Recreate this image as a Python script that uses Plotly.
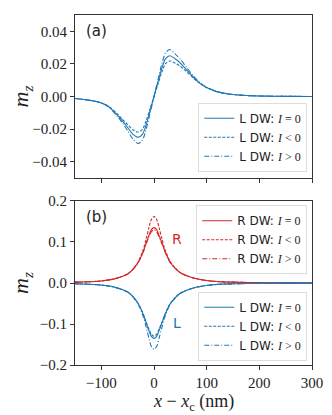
import plotly.graph_objects as go

# Panel (a): left DW profile, m_z vs x - x_c (nm)
xa = [-150, -125, -100, -85, -70, -60, -50, -40, -30, -22, -15, -8, 0, 8, 15, 22, 30, 40, 50, 62, 75, 87, 100, 119, 135, 150, 175, 200, 250, 300]
ya_zero = [-0.0012, -0.0022, -0.004, -0.0065, -0.0113, -0.015, -0.019, -0.0232, -0.025, -0.0232, -0.0175, -0.0095, 0.0, 0.0095, 0.0175, 0.0232, 0.025, 0.0232, 0.0205, 0.0164, 0.0118, 0.0082, 0.0055, 0.003, 0.0019, 0.0012, 0.0006, 0.0003, 0.0001, 0.0]
ya_neg = [-0.0012, -0.0022, -0.004, -0.0063, -0.0106, -0.014, -0.0172, -0.0204, -0.0218, -0.0202, -0.015, -0.008, 0.0, 0.008, 0.015, 0.0202, 0.0218, 0.0205, 0.0185, 0.0152, 0.0112, 0.008, 0.0054, 0.003, 0.0019, 0.0012, 0.0006, 0.0003, 0.0001, 0.0]
ya_pos = [-0.0012, -0.0022, -0.004, -0.0068, -0.012, -0.0162, -0.021, -0.0262, -0.0288, -0.0268, -0.0202, -0.011, 0.0, 0.011, 0.0202, 0.0268, 0.0288, 0.0262, 0.0228, 0.0178, 0.0125, 0.0085, 0.0056, 0.003, 0.0019, 0.0012, 0.0006, 0.0003, 0.0001, 0.0]

# Panel (b): right and left DW profiles
xb = [-150, -125, -100, -75, -50, -40, -30, -20, -15, -10, -5, 0, 5, 10, 15, 20, 30, 40, 50, 75, 100, 125, 150, 200, 250, 300]
yr_zero = [0.002, 0.003, 0.005, 0.01, 0.022, 0.033, 0.05, 0.078, 0.097, 0.115, 0.13, 0.135, 0.13, 0.115, 0.098, 0.08, 0.052, 0.036, 0.025, 0.012, 0.006, 0.003, 0.002, 0.0008, 0.0003, 0.0]
yr_neg = [0.002, 0.003, 0.005, 0.01, 0.022, 0.034, 0.052, 0.083, 0.107, 0.133, 0.155, 0.162, 0.155, 0.133, 0.108, 0.085, 0.054, 0.037, 0.025, 0.012, 0.006, 0.003, 0.002, 0.0008, 0.0003, 0.0]
yr_pos = [0.002, 0.003, 0.005, 0.01, 0.022, 0.033, 0.05, 0.077, 0.095, 0.111, 0.125, 0.13, 0.125, 0.111, 0.096, 0.079, 0.052, 0.036, 0.025, 0.012, 0.006, 0.003, 0.002, 0.0008, 0.0003, 0.0]
yl_zero = [-v for v in yr_zero]
yl_neg = [-v for v in yr_pos]
yl_pos = [-v for v in yr_neg]

blue = '#1f77b4'
red = '#d62728'
axis_col = '#333333'
serif = 'Liberation Serif'
sans = 'DejaVu Sans'
dashes = ['solid', '3px,1.5px', '5px,2px,1px,2px']


def label(side, rel):
    return ('<span style="font-family:DejaVu Sans">' + side + ' DW: </span>'
            '<i>I</i> ' + rel + ' 0')


fig = go.Figure()

# top panel
for y, dash, rel in zip([ya_zero, ya_neg, ya_pos], dashes, ['=', '&lt;', '&gt;']):
    fig.add_trace(go.Scatter(x=xa, y=y, mode='lines',
                             line=dict(color=blue, width=1.1, dash=dash, shape='spline', smoothing=0.8),
                             name=label('L', rel), xaxis='x2', yaxis='y2', legend='legend'))

# bottom panel
for y, dash, rel in zip([yr_zero, yr_neg, yr_pos], dashes, ['=', '&lt;', '&gt;']):
    fig.add_trace(go.Scatter(x=xb, y=y, mode='lines',
                             line=dict(color=red, width=1.1, dash=dash, shape='spline', smoothing=0.8),
                             name=label('R', rel), xaxis='x', yaxis='y', legend='legend2'))
for y, dash, rel in zip([yl_zero, yl_neg, yl_pos], dashes, ['=', '&lt;', '&gt;']):
    fig.add_trace(go.Scatter(x=xb, y=y, mode='lines',
                             line=dict(color=blue, width=1.1, dash=dash, shape='spline', smoothing=0.8),
                             name=label('L', rel), xaxis='x', yaxis='y', legend='legend3'))

axis_common = dict(showline=True, linecolor=axis_col, linewidth=1, mirror=True, ticks='outside', ticklen=4,
                   tickcolor=axis_col, showgrid=False, zeroline=False, automargin=False,
                   tickfont=dict(family=serif, size=15, color='#222'))

legend_common = dict(bgcolor='rgba(255,255,255,0.85)', bordercolor='#dddddd', borderwidth=1,
                     font=dict(family=serif, size=12, color='#222'), xanchor='right', x=0.98,
                     tracegroupgap=0, itemwidth=30)

mz_title = dict(text='<i>m</i><sub><i>z</i></sub>', font=dict(family=serif, size=22, color='#222'), standoff=6)

# page body has an 8px margin, so the figure is 8px smaller and shifted
fig.update_layout(
    width=324, height=407,
    margin=dict(l=67, r=20, t=7, b=50, autoexpand=False),
    plot_bgcolor='white', paper_bgcolor='white',
    xaxis=dict(axis_common, domain=[0, 1], range=[-150, 300], tickvals=[-100, 0, 100, 200, 300],
               ticktext=['−100', '0', '100', '200', '300'], anchor='y'),
    yaxis=dict(axis_common, domain=[0, 0.4686], range=[-0.2, 0.2], tickvals=[-0.2, -0.1, 0, 0.1, 0.2],
               ticktext=['−0.2', '−0.1', '0.0', '0.1', '0.2'], anchor='x', title=mz_title),
    xaxis2=dict(axis_common, domain=[0, 1], range=[-150, 300], tickvals=[-100, 0, 100, 200, 300],
                showticklabels=False, anchor='y2', matches='x'),
    yaxis2=dict(axis_common, domain=[0.5343, 1], range=[-0.05, 0.05], tickvals=[-0.04, -0.02, 0, 0.02, 0.04],
                ticktext=['−0.04', '−0.02', '0.00', '0.02', '0.04'], anchor='x2', title=mz_title),
    legend=dict(legend_common, yanchor='bottom', y=0.5343 + 0.018),
    legend2=dict(legend_common, yanchor='top', y=0.4686 - 0.012),
    legend3=dict(legend_common, yanchor='bottom', y=0.012),
    showlegend=True,
)

# x-axis title placed as annotation so it stays inside the canvas
fig.add_annotation(text='<i>x</i> − <i>x</i><sub>c</sub> (nm)', xref='paper', yref='paper', x=0.5, y=-0.108,
                   yanchor='middle', showarrow=False, font=dict(family=serif, size=18, color='#222'))
fig.add_annotation(text='(a)', xref='paper', yref='paper', x=0.04, y=0.985, xanchor='left', yanchor='top',
                   showarrow=False, font=dict(family=sans, size=15, color='#222'))
fig.add_annotation(text='(b)', xref='paper', yref='paper', x=0.04, y=0.455, xanchor='left', yanchor='top',
                   showarrow=False, font=dict(family=sans, size=15, color='#222'))
fig.add_annotation(text='R', x=44, y=0.108, xref='x', yref='y', showarrow=False,
                   font=dict(family=sans, size=14, color=red))
fig.add_annotation(text='L', x=44, y=-0.097, xref='x', yref='y', showarrow=False,
                   font=dict(family=sans, size=14, color=blue))

fig.write_html("out.html")
